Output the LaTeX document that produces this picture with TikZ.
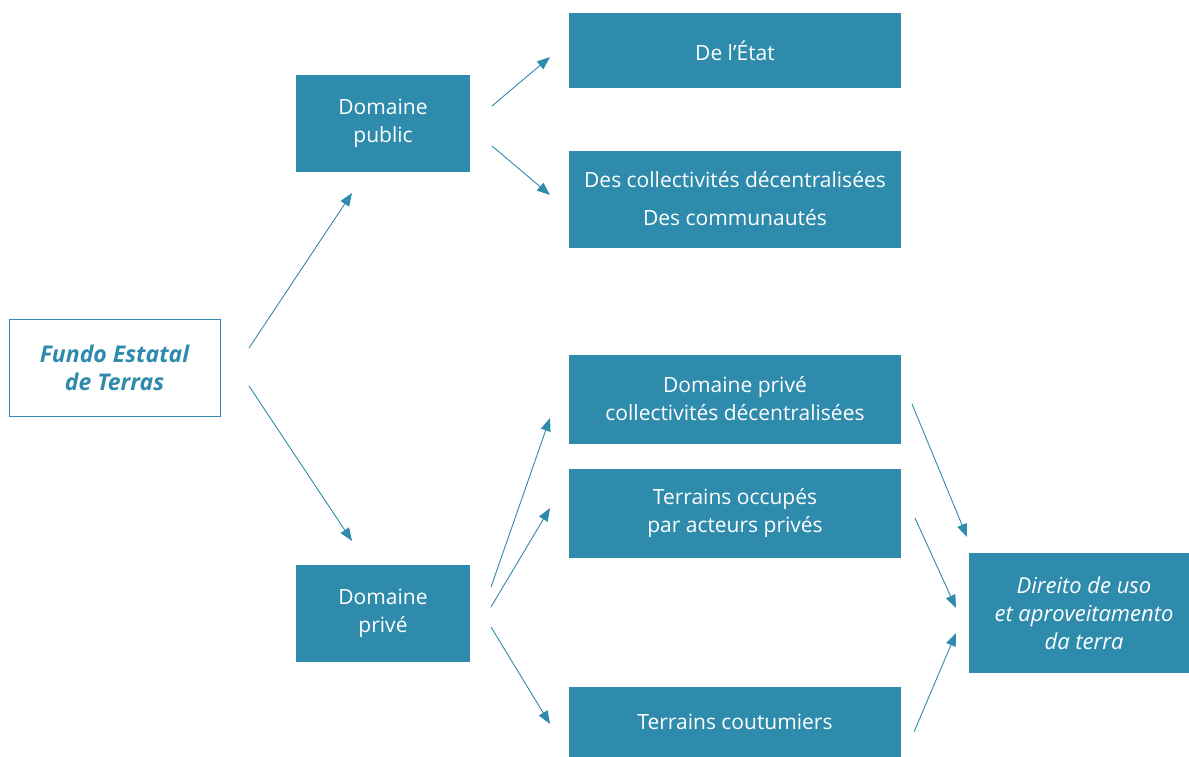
\documentclass[tikz,border=0pt]{standalone}
\usepackage{fontspec}
\setmainfont{Open Sans}
\usetikzlibrary{arrows.meta}
\definecolor{teal}{HTML}{2E8BAC}
\begin{document}
\begin{tikzpicture}[x=1pt,y=-1pt,
  box/.style={fill=teal,draw=none,text=white,align=center,font=\fontsize{21}{28}\selectfont,inner sep=0pt},
  arr/.style={draw=teal,line width=0.9pt,-{Triangle[length=13pt,width=10pt]}}]
\useasboundingbox (0,0) rectangle (1189,756);
% boxes
\node[draw=teal,line width=1pt,fill=white,minimum width=211pt,minimum height=97pt,inner sep=0pt,align=center,text=teal,font=\fontsize{23}{28}\selectfont\bfseries\itshape] (fundo) at (114.5,367.5) {Fundo Estatal\\de Terras};
\node[box,minimum width=174pt,minimum height=97pt] (dpub) at (383,123) {Domaine\\public};
\node[box,minimum width=174pt,minimum height=97pt] (dpriv) at (383,613) {Domaine\\privé};
\node[box,minimum width=332pt,minimum height=75pt] (etat) at (735,50.5) {De l’État};
\node[box,minimum width=332pt,minimum height=97pt,font=\fontsize{21}{38}\selectfont] (coll) at (735,199) {Des collectivités décentralisées\\Des communautés};
\node[box,minimum width=332pt,minimum height=89pt] (dpc) at (735,399) {Domaine privé\\collectivités décentralisées};
\node[box,minimum width=332pt,minimum height=89pt] (occ) at (735,513) {Terrains occupés\\par acteurs privés};
\node[box,minimum width=332pt,minimum height=70pt] (cout) at (735,722) {Terrains coutumiers};
\node[box,minimum width=220pt,minimum height=120pt,font=\fontsize{22}{28}\selectfont\itshape] (dir) at (1079,613) {\hspace*{10pt}Direito de uso\\\hspace*{10pt}et aproveitamento\\\hspace*{10pt}da terra};
% arrow end points
\coordinate (f1) at (249,348); \coordinate (f1e) at (352,193);
\coordinate (f2) at (249,386); \coordinate (f2e) at (352,541);
\coordinate (p1) at (492,106); \coordinate (p1e) at (550,57);
\coordinate (p2) at (492,146); \coordinate (p2e) at (550,195);
\coordinate (q1) at (491,587); \coordinate (q1e) at (550,418);
\coordinate (q2) at (491,607); \coordinate (q2e) at (550,508);
\coordinate (q3) at (491,627); \coordinate (q3e) at (550,724);
\coordinate (r1) at (912,404); \coordinate (r1e) at (967,537);
\coordinate (r2) at (915,518); \coordinate (r2e) at (956,608);
\coordinate (r3) at (914,732); \coordinate (r3e) at (956,633);
\draw[arr] (f1) -- (f1e);
\draw[arr] (f2) -- (f2e);
\draw[arr] (p1) -- (p1e);
\draw[arr] (p2) -- (p2e);
\draw[arr] (q1) -- (q1e);
\draw[arr] (q2) -- (q2e);
\draw[arr] (q3) -- (q3e);
\draw[arr] (r1) -- (r1e);
\draw[arr] (r2) -- (r2e);
\draw[arr] (r3) -- (r3e);
\end{tikzpicture}
\end{document}
